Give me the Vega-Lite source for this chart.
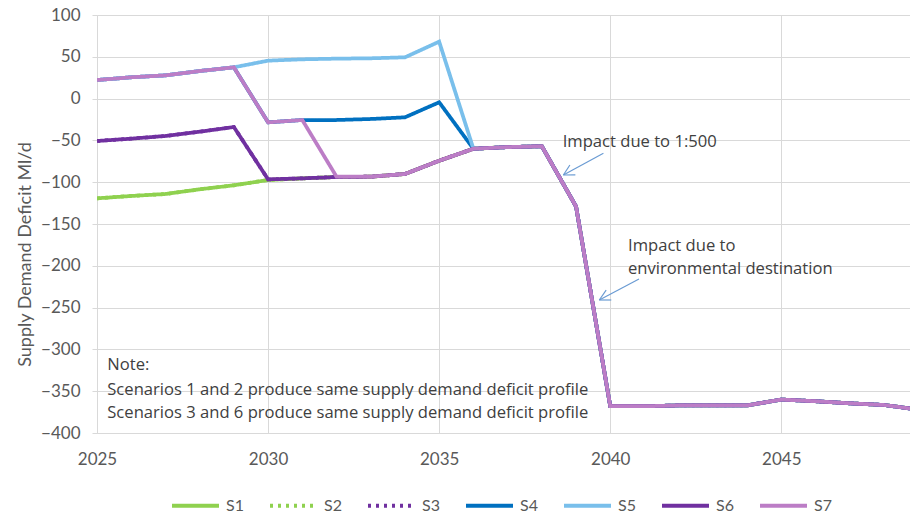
{
  "$schema": "https://vega.github.io/schema/vega-lite/v6.json",
  "autosize": "none",
  "width": 813,
  "height": 418,
  "padding": {"left": 97, "top": 15, "right": 0, "bottom": 82},
  "background": "white",
  "config": {
    "view": {"stroke": null},
    "font": "Lato",
    "axis": {
      "labelFont": "Lato",
      "labelFontSize": 17,
      "labelColor": "#595959",
      "gridColor": "#D9D9D9",
      "gridWidth": 1,
      "domainColor": "#D9D9D9",
      "tickColor": "#D9D9D9"
    }
  },
  "datasets": {
    "series": [
      {"year": 2025, "S1": -119.3, "S2": -119.3, "S3": -50.7, "S4": 22.2, "S5": 22.2, "S6": -50.7, "S7": 22.2},
      {"year": 2026, "S1": -116.5, "S2": -116.5, "S3": -47.9, "S4": 25.5, "S5": 25.5, "S6": -47.9, "S7": 25.5},
      {"year": 2027, "S1": -114.1, "S2": -114.1, "S3": -44.7, "S4": 27.8, "S5": 27.8, "S6": -44.7, "S7": 27.8},
      {"year": 2028, "S1": -108.5, "S2": -108.5, "S3": -39.6, "S4": 33, "S5": 33, "S6": -39.6, "S7": 33},
      {"year": 2029, "S1": -103.7, "S2": -103.7, "S3": -34, "S4": 37.4, "S5": 37.4, "S6": -34, "S7": 37.4},
      {"year": 2030, "S1": -97.4, "S2": -97.4, "S3": -96.6, "S4": -28.4, "S5": 45.4, "S6": -96.6, "S7": -28.4},
      {"year": 2031, "S1": -95.4, "S2": -95.4, "S3": -95.4, "S4": -25.6, "S5": 47, "S6": -95.4, "S7": -25.6},
      {"year": 2032, "S1": -93.8, "S2": -93.8, "S3": -93.8, "S4": -25.6, "S5": 47.8, "S6": -93.8, "S7": -93.4},
      {"year": 2033, "S1": -93.4, "S2": -93.4, "S3": -93.4, "S4": -24.4, "S5": 48.2, "S6": -93.4, "S7": -93.4},
      {"year": 2034, "S1": -90.2, "S2": -90.2, "S3": -90.2, "S4": -22.4, "S5": 49.4, "S6": -90.2, "S7": -90.2},
      {"year": 2035, "S1": -74.3, "S2": -74.3, "S3": -74.3, "S4": -4.4, "S5": 68.1, "S6": -74.3, "S7": -74.3},
      {"year": 2036, "S1": -60, "S2": -60, "S3": -60, "S4": -60, "S5": -60, "S6": -60, "S7": -60},
      {"year": 2037, "S1": -58, "S2": -58, "S3": -58, "S4": -58, "S5": -58, "S6": -58, "S7": -58},
      {"year": 2038, "S1": -57, "S2": -57, "S3": -57, "S4": -57, "S5": -57, "S6": -57, "S7": -57},
      {"year": 2039, "S1": -129, "S2": -129, "S3": -129, "S4": -129, "S5": -129, "S6": -129, "S7": -129},
      {"year": 2040, "S1": -368, "S2": -368, "S3": -368, "S4": -368, "S5": -368, "S6": -368, "S7": -368},
      {"year": 2041, "S1": -368, "S2": -368, "S3": -368, "S4": -368, "S5": -368, "S6": -368, "S7": -368},
      {"year": 2042, "S1": -367, "S2": -367, "S3": -367, "S4": -367, "S5": -367, "S6": -367, "S7": -367},
      {"year": 2043, "S1": -367, "S2": -367, "S3": -367, "S4": -367, "S5": -367, "S6": -367, "S7": -367},
      {"year": 2044, "S1": -367, "S2": -367, "S3": -367, "S4": -367, "S5": -367, "S6": -367, "S7": -367},
      {"year": 2045, "S1": -360, "S2": -360, "S3": -360, "S4": -360, "S5": -360, "S6": -360, "S7": -360},
      {"year": 2046, "S1": -362, "S2": -362, "S3": -362, "S4": -362, "S5": -362, "S6": -362, "S7": -362},
      {"year": 2047, "S1": -364.5, "S2": -364.5, "S3": -364.5, "S4": -364.5, "S5": -364.5, "S6": -364.5, "S7": -364.5},
      {"year": 2048, "S1": -366.5, "S2": -366.5, "S3": -366.5, "S4": -366.5, "S5": -366.5, "S6": -366.5, "S7": -366.5},
      {"year": 2049, "S1": -372, "S2": -372, "S3": -372, "S4": -372, "S5": -372, "S6": -372, "S7": -372}
    ],
    "notes": [
      {"x": 2038.61, "y": -51.6, "label": "Impact due to 1:500"},
      {"x": 2040.52, "y": -176, "label": "Impact due to"},
      {"x": 2040.52, "y": -203.8, "label": "environmental destination"},
      {"x": 2025.3, "y": -318.7, "label": "Note:"},
      {"x": 2025.3, "y": -348.6, "label": "Scenarios 1 and 2 produce same supply demand deficit profile"},
      {"x": 2025.3, "y": -376.1, "label": "Scenarios 3 and 6 produce same supply demand deficit profile"}
    ],
    "arrows": [
      {"x1": 2039.80, "y1": -65.4, "x2": 2038.63, "y2": -91.4},
      {"x1": 2038.82, "y1": -79.4, "x2": 2038.63, "y2": -91.4},
      {"x1": 2038.98, "y1": -91.3, "x2": 2038.63, "y2": -91.4},
      {"x1": 2040.84, "y1": -215.8, "x2": 2039.68, "y2": -240.9},
      {"x1": 2039.88, "y1": -229.1, "x2": 2039.68, "y2": -240.9},
      {"x1": 2040.03, "y1": -240.9, "x2": 2039.68, "y2": -240.9}
    ]
  },
  "layer": [
    {
      "data": {"name": "series"},
      "transform": [
        {"fold": ["S1", "S2", "S3", "S4", "S5", "S6", "S7"], "as": ["series", "value"]}
      ],
      "mark": {"type": "line", "strokeWidth": 3.75, "clip": true, "strokeJoin": "miter", "strokeCap": "butt"},
      "encoding": {
        "x": {
          "field": "year", "type": "quantitative",
          "scale": {"domain": [2025, 2048.76], "nice": false, "zero": false},
          "axis": {
            "values": [2025, 2030, 2035, 2040, 2045],
            "format": "d",
            "title": null,
            "ticks": false,
            "tickSize": 0,
            "labelPadding": 18,
            "labelFlush": false,
            "grid": true
          }
        },
        "y": {
          "field": "value", "type": "quantitative",
          "scale": {"domain": [-400, 100], "nice": false, "zero": false},
          "axis": {
            "values": [-400, -350, -300, -250, -200, -150, -100, -50, 0, 50, 100],
            "title": "Supply Demand Deficit Ml/d",
            "titleFont": "Lato",
            "titleFontSize": 18,
            "titleFontWeight": "normal",
            "titleColor": "#595959",
            "titleAngle": 270,
            "titleBaseline": "middle",
            "titleAlign": "center",
            "titleX": -72,
            "titleY": 239,
            "tickSize": 5,
            "labelPadding": 12,
            "labelFlush": false,
            "grid": true
          }
        },
        "color": {
          "field": "series", "type": "nominal",
          "scale": {
            "domain": ["S1", "S2", "S3", "S4", "S5", "S6", "S7"],
            "range": ["#8FD14F", "#8FD14F", "#7030A0", "#0070C0", "#79BFEB", "#7030A0", "#BC7DC6"]
          },
          "legend": {
            "title": null,
            "orient": "none",
            "legendX": 73,
            "legendY": 465,
            "direction": "horizontal",
            "symbolType": "stroke",
            "symbolSize": 2209,
            "symbolStrokeWidth": 4,
            "labelFont": "Lato",
            "labelFontSize": 16,
            "labelColor": "#595959",
            "labelOffset": 5,
            "columnPadding": 18
          }
        },
        "strokeDash": {
          "field": "series", "type": "nominal",
          "scale": {
            "domain": ["S1", "S2", "S3", "S4", "S5", "S6", "S7"],
            "range": [[1, 0], [3, 5], [3, 5], [1, 0], [1, 0], [1, 0], [1, 0]]
          },
          "legend": {"title": null}
        }
      }
    },
    {
      "data": {"name": "arrows"},
      "mark": {"type": "rule", "color": "#6A9BD3", "strokeWidth": 1.2},
      "encoding": {
        "x": {"field": "x1", "type": "quantitative"},
        "y": {"field": "y1", "type": "quantitative"},
        "x2": {"field": "x2"},
        "y2": {"field": "y2"}
      }
    },
    {
      "data": {"name": "notes"},
      "mark": {"type": "text", "align": "left", "baseline": "middle", "font": "Open Sans", "fontSize": 16.6, "color": "#404040"},
      "encoding": {
        "x": {"field": "x", "type": "quantitative"},
        "y": {"field": "y", "type": "quantitative"},
        "text": {"field": "label"}
      }
    }
  ]
}
